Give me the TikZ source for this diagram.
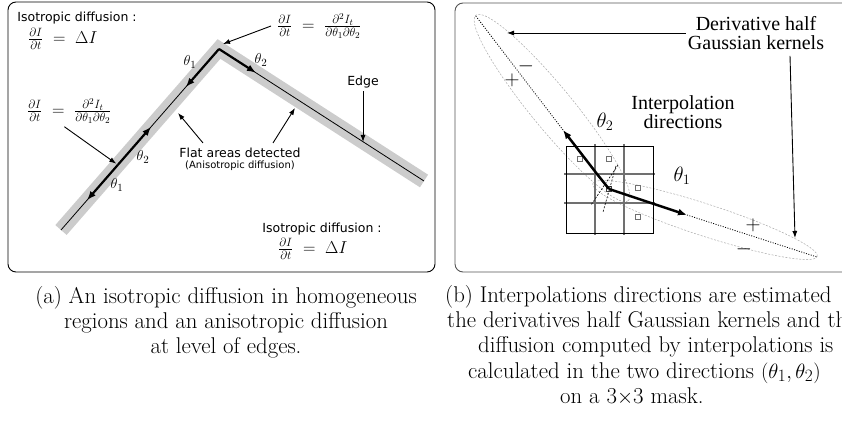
\documentclass[tikz,border=0pt]{standalone}
\usepackage{amsmath}
\usepackage{fontspec}
\newfontfamily\lblsans{DejaVu Sans}
\newfontfamily\serifrm{Liberation Serif}
\usetikzlibrary{arrows.meta, positioning, calc}
\definecolor{bandGray}{HTML}{CCCCCC}
\definecolor{frameGray}{HTML}{555555}
\definecolor{gridGray}{HTML}{707070}
\definecolor{kernelGray}{HTML}{A8A8A8}

\begin{document}
\begin{tikzpicture}[x=1pt, y=-1pt,
    panel/.style={draw, rounded corners=8pt, line width=0.9pt},
    sanslbl/.style={font=\lblsans\fontsize{12.5}{14}\selectfont, inner sep=0pt},
    smallsans/.style={font=\lblsans\fontsize{10}{12}\selectfont, inner sep=0pt},
    eqn/.style={font=\fontsize{18}{20}\selectfont, inner sep=0pt},
    anglbl/.style={font=\fontsize{15}{16}\selectfont, inner sep=0pt},
    serif/.style={font=\serifrm\fontsize{20}{19}\selectfont, inner sep=0pt, align=center},
    bigangle/.style={font=\fontsize{21}{22}\selectfont, inner sep=0pt},
    sign/.style={font=\fontsize{20}{20}\selectfont, inner sep=0pt},
    capline/.style={font=\fontsize{22.8}{25}\selectfont, inner sep=0pt, anchor=base west},
    note/.style={-{Latex[length=7pt,width=5pt]}, line width=0.9pt},
    dir/.style={-{Latex[length=9pt,width=7pt]}, line width=2.2pt},
    kernel/.style={draw=kernelGray, line width=0.5pt, dash pattern=on 2pt off 1.5pt},
    axisdots/.style={line width=0.8pt, dash pattern=on 1pt off 1.5pt},
    gridline/.style={gridGray, line width=1.6pt},
    pix/.style={draw=gridGray, line width=0.7pt, minimum size=4.5pt, inner sep=0pt},
  ]
  \useasboundingbox (0,0) rectangle (842,427);

  % (a) edge with its band of flat areas
  \draw[panel] (8,2) rectangle (435,272);
  \coordinate (e0) at (61,230);
  \coordinate (ec) at (219,49);
  \coordinate (e1) at (424,181);
  \draw[bandGray, line width=15pt, line join=miter] (e0) -- (ec) -- (e1);
  \draw[line width=0.8pt] (e0) -- (ec) -- (e1);
  \coordinate (p) at ($(e0)!0.36!(ec)$);
  \draw[dir] (ec) -- ($(ec)!0.21!(e0)$);
  \draw[dir] (ec) -- ($(ec)!0.18!(e1)$);
  \draw[dir] (p) -- ($(e0)!0.57!(ec)$);
  \draw[dir] (p) -- ($(e0)!0.165!(ec)$);
  \node[anglbl] (t1a) at (190,62) {$\theta_1$};
  \node[anglbl] (t2a) at (261,60) {$\theta_2$};
  \node[anglbl] (t2b) at (143,157) {$\theta_2$};
  \node[anglbl] (t1b) at (117,185) {$\theta_1$};

  \node[sanslbl] (iso1) at (77,18) {Isotropic diffusion :};
  \node[eqn, anchor=west] (iso1eq) at (28,39) {$\frac{\partial I}{\partial t} \;=\; \Delta I$};
  \node[eqn, anchor=west] (eqtop) at (277,26) {$\frac{\partial I}{\partial t} \;=\; \frac{\partial^2 I_t}{\partial\theta_1\partial\theta_2}$};
  \node[eqn, anchor=west] (eqleft) at (27,111) {$\frac{\partial I}{\partial t} \;=\; \frac{\partial^2 I_t}{\partial\theta_1\partial\theta_2}$};
  \coordinate (ctip) at (223,44);
  \draw[note] ([xshift=-6pt]eqtop.west) -- (ctip);
  \draw[note, shorten >=2pt] ([xshift=-5pt,yshift=-3pt]eqleft.south) -- (p);

  \node[sanslbl] (flat) at (240,153) {Flat areas detected};
  \node[smallsans, below=3pt of flat] (aniso) {(Anisotropic diffusion)};
  \coordinate (flatL) at (178,113);
  \coordinate (flatR) at (295,108);
  \draw[note] ([xshift=-37pt,yshift=5pt]flat.north) -- (flatL);
  \draw[note] ([xshift=33pt,yshift=5pt]flat.north) -- (flatR);

  \node[sanslbl] (edge) at (363,82) {Edge};
  \coordinate (edgept) at (363,142);
  \draw[note] ([yshift=-3pt]edge.south) -- (edgept);

  \node[sanslbl] (iso2) at (322,229) {Isotropic diffusion :};
  \node[eqn, anchor=west] (iso2eq) at (278,249) {$\frac{\partial I}{\partial t} \;=\; \Delta I$};

  % (b) half Gaussian kernels on the 3x3 mask
  \draw[panel, draw=frameGray] (455,3) rectangle (880,272);
  \draw[kernel, shift={(552,108)}, rotate=-50.6] (0,0) ellipse [x radius=120pt, y radius=21pt];
  \draw[kernel, shift={(705,220)}, rotate=-18] (0,0) ellipse [x radius=118pt, y radius=16pt];

  \foreach \gx in {595,624} {\draw[gridline] (\gx,144) -- (\gx,235);}
  \foreach \gy in {174,203} {\draw[gridline] (564,\gy) -- (655,\gy);}
  \draw[line width=0.9pt] (566,146) rectangle (653,233);
  \foreach \px/\py [count=\k] in {580/159, 609/159, 638/188, 638/217}
    {\node[pix] (pix\k) at (\px,\py) {};}
  \node[pix, draw=black!75] (pc) at (609,189) {};
  \draw[line width=0.6pt, dash pattern=on 2pt off 1.5pt] (618,165) -- (591,205);
  \draw[line width=0.6pt, dash pattern=on 2pt off 1.5pt] (616,166) -- (603,212);

  \coordinate (g0) at (609,189);
  \coordinate (gk) at (597,174);
  \coordinate (tip2) at (563,130);
  \coordinate (tip1) at (687,215);
  \coordinate (kA) at (475,15);
  \coordinate (kB) at (817,257);
  \draw[axisdots] (tip2) -- (kA);
  \draw[axisdots] (tip1) -- (kB);
  \draw[dir, line width=2.5pt] (g0) -- (gk) -- (tip2);
  \draw[dir, line width=2.5pt] (g0) -- (tip1);

  \node[bigangle] (th2) at (605,122) {$\theta_2$};
  \node[bigangle] (th1) at (682,176) {$\theta_1$};
  \node[serif] (interp) at (683,112) {Interpolation\\directions};
  \node[serif] (deriv) at (756,33) {Derivative half\\Gaussian kernels};
  \coordinate (kernA) at (507,33);
  \coordinate (kernB) at (795,238);
  \draw[note] ([xshift=-2pt]deriv.west) -- (kernA);
  \draw[note] ([xshift=34pt,yshift=-6pt]deriv.south) -- (kernB);
  \node[sign] (plusA) at (512,80) {$+$};
  \node[sign] (minusA) at (526,66) {$-$};
  \node[sign] (plusB) at (753,225) {$+$};
  \node[sign] (minusB) at (744,249) {$-$};

  % captions
  \node[capline, anchor=north, align=center] (capa) at (226,286)
    {(a) An isotropic diffusion in homogeneous\\regions and an anisotropic diffusion\\at level of edges.};
  \node[capline] (capb1) at (445,302) {(b) Interpolations directions are estimated};
  \node[capline] (capb2) at (447,327) {the derivatives half Gaussian kernels and th};
  \node[capline] (capb3) at (478,352) {diffusion computed by interpolations is};
  \node[capline] (capb4) at (468,378) {calculated in the two directions $(\theta_1,\theta_2)$};
  \node[capline] (capb5) at (560,403) {on a 3$\times$3 mask.};
\end{tikzpicture}
\end{document}
